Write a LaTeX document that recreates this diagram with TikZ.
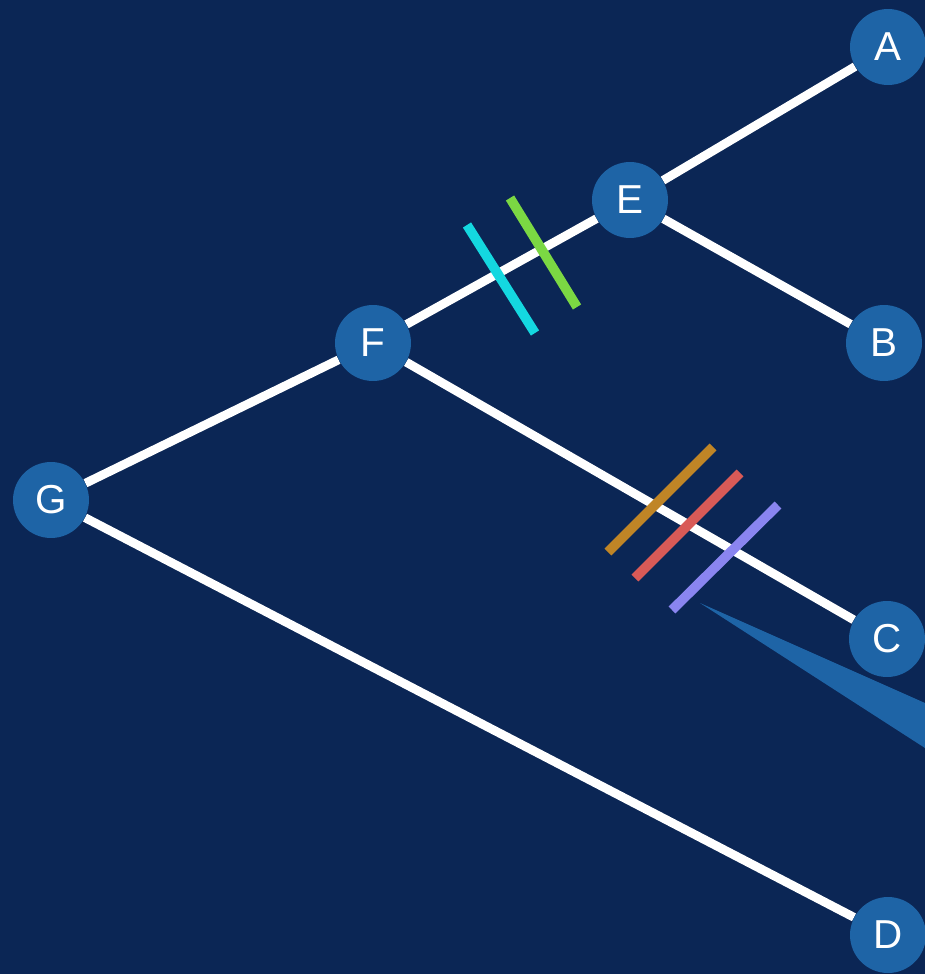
\documentclass[tikz,border=0pt]{standalone}
\usepackage{fontspec}
\setmainfont{Liberation Sans}
\usepackage{tikz}
\usetikzlibrary{calc}

\definecolor{navy}{HTML}{0B2655}
\definecolor{nodeblue}{HTML}{1E64A6}
\definecolor{tickcyan}{HTML}{14D8E0}
\definecolor{tickgreen}{HTML}{7BD843}
\definecolor{tickorange}{HTML}{C08526}
\definecolor{tickred}{HTML}{D95A57}
\definecolor{tickpurple}{HTML}{8A85F0}

\pgfdeclarelayer{bg}
\pgfdeclarelayer{edges}
\pgfsetlayers{bg,edges,main}

\tikzset{
  taxon/.style={circle,fill=nodeblue,minimum size=1.52cm,inner sep=0pt,
    text=white,font=\fontsize{23}{25}\selectfont},
  branch/.style={draw=white,line width=5pt},
  tick/.style={line width=5.5pt}
}

\begin{document}
\begin{tikzpicture}[x=0.02cm,y=-0.02cm]

% Canvas
\useasboundingbox (0,0) rectangle (925,974);
\begin{pgfonlayer}{bg}
\fill[navy] (0,0) rectangle (925,974);
\end{pgfonlayer}

% Tree nodes
\node[taxon] (A) at (888,47){A};
\node[taxon] (E) at (630,200){E};
\node[taxon] (B) at (884,343){B};
\node[taxon] (F) at (373,343){F};
\node[taxon] (G) at (51,500){G};
\node[taxon] (C) at (887,639){C};
\node[taxon] (D) at (888,935){D};

% Branches
\begin{pgfonlayer}{edges}
\draw[branch] (E)--(A);
\draw[branch] (E)--(B);
\draw[branch] (F)--(E);
\draw[branch] (G)--(F);
\draw[branch] (F)--(C);
\draw[branch] (G)--(D);
\end{pgfonlayer}

% Marks on branch F-E
\draw[tick,tickcyan] (467,225)--(535,333);
\draw[tick,tickgreen] (510,198)--(577,307);

% Marks on branch F-C
\draw[tick,tickorange] (713,447)--(608,552);
\draw[tick,tickred] (740,473)--(635,578);
\draw[tick,tickpurple] (778,505)--(672,610);

% Pointer wedge
\fill[nodeblue] (700,603)--(925,703)--(925,748)--cycle;

\end{tikzpicture}
\end{document}
